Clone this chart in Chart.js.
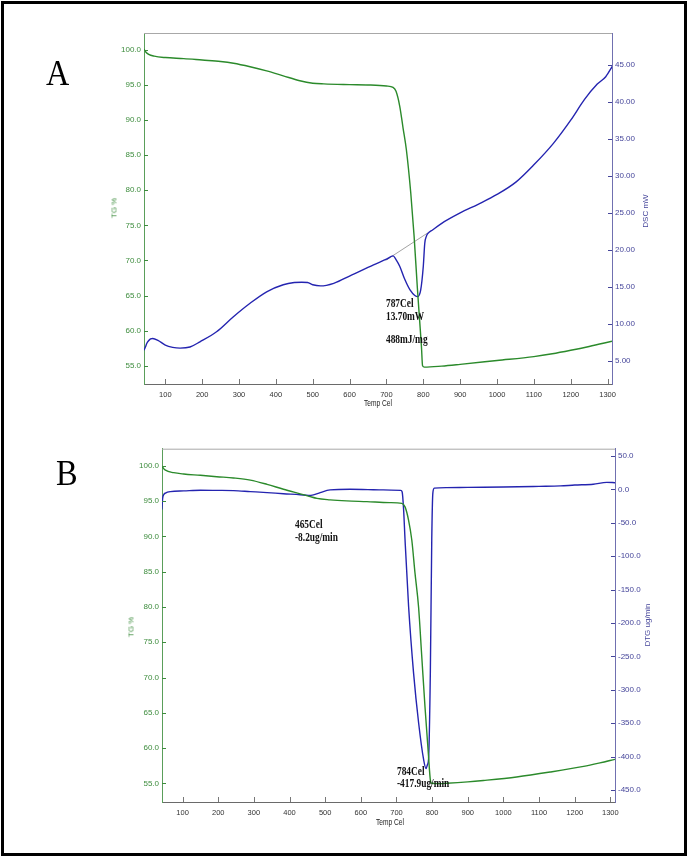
<!DOCTYPE html>
<html>
<head>
<meta charset="utf-8">
<script src="https://cdn.jsdelivr.net/npm/chart.js@4.4.1/dist/chart.umd.min.js"></script>
<style>
  body { margin: 0; background: #fff; }
  #page { position: relative; width: 688px; height: 858px; overflow: hidden; }
  #frame { position: absolute; left: 1px; top: 1px; width: 686px; height: 855px; border: 3px solid #000; box-sizing: border-box; }
  canvas { position: absolute; left: 0; }
  .txt { position: absolute; white-space: nowrap; }
  .letter { font: 36px "Liberation Serif", serif; line-height: 36px; transform: scaleX(0.9); transform-origin: left; color: #000; }
  .note { font: bold 12px "Liberation Serif", serif; line-height: 13px; transform: scaleX(0.78); transform-origin: left; color: #111; }
  .vt { font: 8px "Liberation Sans", sans-serif; transform: translate(-50%, -50%) rotate(-90deg); }
  .xt { font: 8.5px "Liberation Sans", sans-serif; transform: translate(-50%, -50%) scaleX(0.78); color: #222; }
</style>
</head>
<body>
<div id="page">
  <div id="frame"></div>
  <canvas id="chartA" width="688" height="420" style="top:0"></canvas>
  <canvas id="chartB" width="688" height="438" style="top:420px"></canvas>

  <div class="txt letter" style="left:46px; top:55px">A</div>
  <div class="txt letter" style="left:56px; top:455px">B</div>

  <div class="txt vt" style="left:114px; top:208px; color:#3d8c3d">TG %</div>
  <div class="txt vt" style="left:645px; top:211px; color:#45459a">DSC mW</div>
  <div class="txt xt" style="left:378px; top:403px">Temp Cel</div>

  <div class="txt vt" style="left:131px; top:627px; color:#3d8c3d">TG %</div>
  <div class="txt vt" style="left:647px; top:625px; color:#45459a">DTG ug/min</div>
  <div class="txt xt" style="left:390px; top:822px">Temp Cel</div>

  <div class="txt note" style="left:386px; top:297px">787Cel</div>
  <div class="txt note" style="left:386px; top:310px">13.70mW</div>
  <div class="txt note" style="left:386px; top:333px">488mJ/mg</div>

  <div class="txt note" style="left:295px; top:518px">465Cel</div>
  <div class="txt note" style="left:295px; top:531px">-8.2ug/min</div>
  <div class="txt note" style="left:397px; top:765px">784Cel</div>
  <div class="txt note" style="left:397px; top:777px">-417.9ug/min</div>
</div>

<script>
// tick labels
const xTicks = [100, 200, 300, 400, 500, 600, 700, 800, 900, 1000, 1100, 1200, 1300];
const tgTicks = [55, 60, 65, 70, 75, 80, 85, 90, 95, 100];
const dscTicks = [5, 10, 15, 20, 25, 30, 35, 40, 45];
const dtgTicks = [50, 0, -50, -100, -150, -200, -250, -300, -350, -400, -450];

// panel A - TG %
const tempTgA = [42, 47, 55, 70, 100, 150, 200, 250, 285, 330, 375, 420, 465, 500, 530, 600, 650, 700, 718, 726, 736, 745, 754, 766, 775, 784, 790, 795, 798, 803, 850, 900, 1000, 1100, 1150, 1200, 1250, 1312];
const tgA = [100.1, 99.7, 99.35, 99.1, 98.9, 98.75, 98.55, 98.35, 98.1, 97.6, 97.0, 96.3, 95.6, 95.25, 95.15, 95.05, 95.0, 94.85, 94.65, 94.1, 92.0, 88.9, 85.8, 79.6, 73.5, 66.0, 61.5, 57.7, 55.0, 54.8, 54.95, 55.2, 55.75, 56.3, 56.7, 57.2, 57.75, 58.5];

// panel A - DSC mW
const tempDscA = [42, 46, 50, 54, 60, 66, 80, 100, 120, 140, 167, 194, 239, 284, 330, 375, 420, 450, 470, 486, 500, 521, 557, 605, 665, 700, 718, 726, 736, 750, 764, 777, 785, 793, 800, 804, 808, 812, 825, 850, 900, 950, 1000, 1052, 1100, 1153, 1201, 1237, 1272, 1295, 1314];
const dscA = [6.45, 6.9, 7.4, 7.7, 8.0, 8.05, 7.8, 7.15, 6.85, 6.75, 6.9, 7.6, 8.95, 10.95, 12.8, 14.35, 15.3, 15.6, 15.65, 15.6, 15.3, 15.15, 15.5, 16.6, 18.0, 18.75, 19.2, 18.7, 17.8, 16.0, 14.6, 13.85, 13.7, 14.6, 17.8, 20.9, 21.8, 22.2, 22.7, 23.6, 25.0, 26.2, 27.5, 29.2, 31.5, 34.4, 37.6, 40.3, 42.4, 43.4, 44.9];

// panel A - integration baseline
const tempBase = [698, 812];
const dscBase = [18.6, 22.3];

// panel B - TG %
const tempTgB = [42, 46, 52, 75, 103, 150, 196, 243, 290, 337, 383, 430, 455, 477, 514, 560, 617, 680, 715, 724, 734, 743, 752, 762, 771, 780, 790, 795, 799, 820, 841, 900, 944, 1037, 1131, 1225, 1271, 1313];
const tgB = [100.0, 99.7, 99.4, 99.05, 98.86, 98.68, 98.48, 98.3, 98.0, 97.4, 96.7, 96.05, 95.7, 95.4, 95.2, 95.05, 94.94, 94.8, 94.7, 94.2, 92.3, 89.5, 84.8, 80.0, 72.95, 65.85, 58.8, 55.5, 55.0, 54.95, 55.0, 55.2, 55.4, 55.9, 56.6, 57.4, 57.9, 58.4];

// panel B - DTG ug/min
const tempDtgB = [42, 44, 47, 52, 66, 103, 150, 196, 243, 290, 337, 383, 430, 453, 467, 486, 514, 570, 620, 663, 712, 716, 720, 724, 734, 748, 762, 776, 783, 787, 790, 795, 799, 802, 806, 841, 900, 1000, 1100, 1160, 1200, 1252, 1290, 1313];
const dtgB = [-30, -14, -8, -5.5, -3.3, -2.3, -1.3, -1.5, -1.8, -3.3, -4.8, -6.5, -8.0, -9.0, -8.2, -4.8, -0.8, 0.2, -0.3, -0.8, -1.5, -4, -30, -75, -175, -275, -349, -404, -418, -412, -404, -275, -75, -6, 1.8, 2.6, 3.0, 3.5, 4.5, 5.2, 6.5, 7.7, 10.5, 10.0];

const GREEN = "#2b8a2b";
const BLUE = "#2424b0";
const GREEN_LAB = "#3d8c3d";
const BLUE_LAB = "#45459a";
const SANS = "'Liberation Sans', Arial, sans-serif";

function pts(xs, ys) {
  return xs.map((x, i) => ({ x: x, y: ys[i] }));
}

// tick marks drawn inward, plus the light top edge of the plot box
const innerTicks = {
  id: "innerTicks",
  afterDraw(chart) {
    const { ctx, chartArea: a, scales } = chart;
    ctx.save();
    ctx.lineWidth = 1;
    const seg = (x1, y1, x2, y2, c) => {
      ctx.strokeStyle = c;
      ctx.beginPath();
      ctx.moveTo(x1, y1);
      ctx.lineTo(x2, y2);
      ctx.stroke();
    };
    seg(a.left, a.top + 0.5, a.right, a.top + 0.5, "#a8a8a8");
    scales.x.ticks.forEach((t) => {
      const px = Math.round(scales.x.getPixelForValue(t.value)) + 0.5;
      seg(px, a.bottom, px, a.bottom - 5, "#777");
    });
    scales.y.ticks.forEach((t) => {
      const py = Math.round(scales.y.getPixelForValue(t.value)) + 0.5;
      seg(a.left, py, a.left + 4, py, GREEN_LAB);
    });
    scales.y1.ticks.forEach((t) => {
      const py = Math.round(scales.y1.getPixelForValue(t.value)) + 0.5;
      seg(a.right, py, a.right - 4, py, BLUE_LAB);
    });
    ctx.restore();
  },
};

const noGrid = { display: false, drawTicks: false, tickLength: 0 };

function buildChart(canvasId, o) {
  return new Chart(document.getElementById(canvasId), {
    type: "line",
    data: { datasets: o.datasets },
    options: {
      responsive: false,
      animation: false,
      devicePixelRatio: 1,
      layout: { autoPadding: false, padding: { top: o.top, left: 0, right: 0, bottom: 0 } },
      plugins: { legend: { display: false }, tooltip: { enabled: false } },
      elements: {
        point: { radius: 0 },
        line: { borderWidth: 1.4, cubicInterpolationMode: "monotone" },
      },
      scales: {
        x: {
          type: "linear",
          min: o.xMin,
          max: o.xMax,
          afterFit: (s) => { s.height = o.xHeight; },
          afterBuildTicks: (s) => { s.ticks = xTicks.map((v) => ({ value: v })); },
          grid: noGrid,
          border: { color: "#6a6a6a" },
          ticks: { padding: 6, color: "#333", autoSkip: false, maxRotation: 0, font: { family: SANS, size: 7.5 }, callback: (v) => String(v) },
        },
        y: {
          type: "linear",
          position: "left",
          min: o.tgMin,
          max: o.tgMax,
          afterFit: (s) => { s.width = o.leftW; },
          afterBuildTicks: (s) => { s.ticks = tgTicks.map((v) => ({ value: v })); },
          grid: noGrid,
          border: { color: "#5a9e5a" },
          ticks: { padding: 3, color: GREEN_LAB, autoSkip: false, font: { family: SANS, size: 8 }, callback: (v) => v.toFixed(1) },
        },
        y1: {
          type: "linear",
          position: "right",
          min: o.rMin,
          max: o.rMax,
          afterFit: (s) => { s.width = o.rightW; },
          afterBuildTicks: (s) => { s.ticks = o.rTicks.map((v) => ({ value: v })); },
          grid: noGrid,
          border: { color: "#7070b0" },
          ticks: { padding: 3, color: BLUE_LAB, autoSkip: false, font: { family: SANS, size: 8 }, callback: (v) => v.toFixed(o.rDec) },
        },
      },
    },
    plugins: [innerTicks],
  });
}

buildChart("chartA", {
  top: 33, xHeight: 36, leftW: 144, rightW: 76,
  xMin: 42.2, xMax: 1312,
  tgMin: 52.4, tgMax: 102.4,
  rMin: 1.9, rMax: 49.3, rTicks: dscTicks, rDec: 2,
  datasets: [
    { data: pts(tempTgA, tgA), borderColor: GREEN, yAxisID: "y" },
    { data: pts(tempDscA, dscA), borderColor: BLUE, yAxisID: "y1" },
    { data: pts(tempBase, dscBase), borderColor: "#8a8a8a", borderWidth: 0.8, yAxisID: "y1" },
  ],
});

buildChart("chartB", {
  top: 28.7, xHeight: 56, leftW: 162, rightW: 73,
  xMin: 42.3, xMax: 1313,
  tgMin: 52.35, tgMax: 102.45,
  rMin: -468, rMax: 60.9, rTicks: dtgTicks, rDec: 1,
  datasets: [
    { data: pts(tempTgB, tgB), borderColor: GREEN, yAxisID: "y" },
    { data: pts(tempDtgB, dtgB), borderColor: BLUE, yAxisID: "y1" },
  ],
});
</script>
</body>
</html>
